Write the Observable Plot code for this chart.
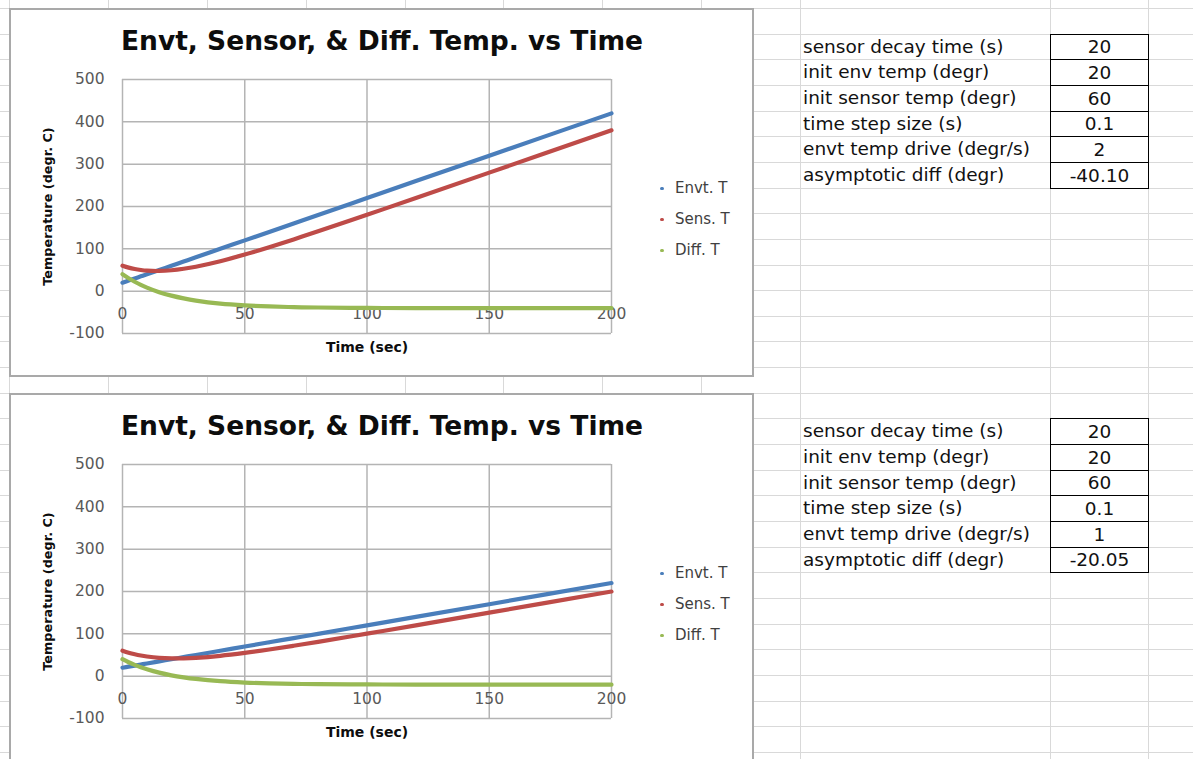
<!DOCTYPE html>
<html>
<head>
<meta charset="utf-8">
<script src="https://cdn.jsdelivr.net/npm/d3@7"></script>
<script src="https://cdn.jsdelivr.net/npm/@observablehq/plot@0.6"></script>
<style>
  html, body { margin: 0; padding: 0; background: #fff; }
  body { width: 1193px; height: 759px; overflow: hidden; position: relative; font-family: "DejaVu Sans", sans-serif; }
  #sheet { position: absolute; left: 0; top: 0; }
  .chart { position: absolute; left: 9px; width: 745px; height: 369px; background: #fff; }
  .chart::after { content: ""; position: absolute; inset: 0; border: 2px solid #a9a9a9; pointer-events: none; }
  .chart svg { position: absolute; left: 0; top: 0; }
  .legend-item { position: absolute; left: 650px; height: 20px; line-height: 20px; font-size: 15px; color: #404040; white-space: nowrap; }
  .legend-item .dot { position: absolute; left: 1px; top: 8.5px; width: 3.5px; height: 3.5px; border-radius: 50%; }
  .legend-item .lbl { position: absolute; left: 16px; top: 0; }
  .cell-label { position: absolute; left: 803px; font-size: 18.5px; color: #111; white-space: nowrap; }
  .cell-value { position: absolute; left: 1050px; width: 99px; box-sizing: border-box; border: 1px solid #000; text-align: center; font-size: 18.5px; color: #111; background: #fff; }
</style>
</head>
<body>
<svg id="sheet" width="1193" height="759"></svg>
<div id="root"></div>
<script>
// Time samples (s) and the three temperature series of each run
const times = [0, 2.5, 5, 7.5, 10, 15, 20, 25, 30, 40, 50, 60, 70, 80, 100, 120, 150, 200];

// Run 1: environment driven at 2 degr/s
const envtA = [20, 25, 30, 35, 40, 50, 60, 70, 80, 100, 120, 140, 160, 180, 220, 260, 320, 420];
const sensA = [60, 55.6, 52.3, 50.0, 48.5, 47.7, 49.4, 52.9, 57.8, 70.7, 86.5, 103.9, 122.3, 141.4, 180.4, 220.1, 280.0, 379.9];
const diffA = [40, 30.6, 22.3, 15.0, 8.5, -2.3, -10.6, -17.1, -22.2, -29.3, -33.5, -36.1, -37.7, -38.6, -39.6, -39.9, -40.0, -40.1];

// Run 2: environment driven at 1 degr/s
const envtB = [20, 22.5, 25, 27.5, 30, 35, 40, 45, 50, 60, 70, 80, 90, 100, 120, 140, 170, 220];
const sensB = [60, 55.4, 51.7, 48.7, 46.4, 43.3, 42.0, 42.2, 43.4, 48.1, 54.9, 62.9, 71.8, 81.1, 100.4, 120.1, 150.0, 199.95];
const diffB = [40, 32.9, 26.7, 21.2, 16.4, 8.3, 2.0, -2.8, -6.6, -11.9, -15.1, -17.1, -18.2, -18.9, -19.6, -19.9, -20.0, -20.05];

const xTicks = [0, 50, 100, 150, 200];
const yTicks = [-100, 0, 100, 200, 300, 400, 500];

const seriesNames = ["Envt. T", "Sens. T", "Diff. T"];
const seriesKeys = ["envt", "sens", "diff"];
const seriesColors = ["#4a7ebb", "#be4b48", "#98b954"];

const chartTitle = "Envt, Sensor, & Diff. Temp. vs Time";
const xTitle = "Time (sec)";
const yTitle = "Temperature (degr. C)";

// Parameter table shown next to each chart
const paramLabels = ["sensor decay time (s)", "init env temp (degr)", "init sensor temp (degr)", "time step size (s)", "envt temp drive (degr/s)", "asymptotic diff (degr)"];
const paramsA = ["20", "20", "60", "0.1", "2", "-40.10"];
const paramsB = ["20", "20", "60", "0.1", "1", "-20.05"];

// Worksheet cell grid
const ROW_H = 25.65, ROW0 = 8;
const colEdges = [9.3, 108.1, 206.9, 305.7, 404.5, 503.3, 602.1, 700.9, 799.7, 1049.5, 1148];

const sheet = d3.select("#sheet");
for (let k = 0; ROW0 + k * ROW_H < 759; k++) {
  const y = Math.round(ROW0 + k * ROW_H) + 0.5;
  sheet.append("line").attr("x1", 0).attr("x2", 1193).attr("y1", y).attr("y2", y)
    .attr("stroke", "#d9d9d9").attr("stroke-width", 1);
}
for (const x0 of colEdges) {
  const x = Math.round(x0) + 0.5;
  sheet.append("line").attr("x1", x).attr("x2", x).attr("y1", 0).attr("y2", 759)
    .attr("stroke", "#d9d9d9").attr("stroke-width", 1);
}

function makeChart(top, envt, sens, diff) {
  const rows = times.map((t, i) => ({t, envt: envt[i], sens: sens[i], diff: diff[i]}));
  const box = document.createElement("div");
  box.className = "chart";
  box.style.top = top + "px";

  const plot = Plot.plot({
    width: 745,
    height: 369,
    marginLeft: 113,
    marginRight: 143,
    marginTop: 71,
    marginBottom: 44,
    x: {domain: [0, 200], axis: null},
    y: {domain: [-100, 500], axis: null, label: null},
    style: {background: "transparent", fontFamily: "DejaVu Sans, sans-serif", overflow: "visible"},
    marks: [
      Plot.gridX(xTicks, {stroke: "#b4b4b4", strokeOpacity: 1, strokeWidth: 1.5}),
      Plot.gridY(yTicks, {stroke: "#b4b4b4", strokeOpacity: 1, strokeWidth: 1.5}),
      Plot.axisY(yTicks, {tickSize: 0, tickPadding: 18, fontSize: 15.5, color: "#595959", label: null,
        tickFormat: d => String(d)}),
      Plot.text(xTicks, {x: d => d, y: () => 0, dy: 23, text: d => String(d), fontSize: 15.5, fill: "#595959"}),
      ...seriesKeys.map((k, i) => Plot.line(rows, {
        x: "t", y: k, stroke: seriesColors[i], strokeWidth: 4.2, curve: "catmull-rom"
      })),
      Plot.text([chartTitle], {text: d => d, frameAnchor: "top", dx: 15, dy: -38, lineAnchor: "middle",
        fontSize: 26.5, fontWeight: "bold", fill: "#0d0d0d"}),
      Plot.text([xTitle], {text: d => d, frameAnchor: "bottom", dy: 14, lineAnchor: "middle",
        fontSize: 14, fontWeight: "bold", fill: "#0d0d0d"}),
      Plot.text([yTitle], {text: d => d, frameAnchor: "left", dx: -75, rotate: -90, textAnchor: "middle",
        lineAnchor: "middle", fontSize: 12.8, fontWeight: "bold", fill: "#0d0d0d"})
    ]
  });
  box.appendChild(plot);

  // Series legend to the right of the plot area
  const legendTops = [170, 201, 232];
  seriesNames.forEach((name, i) => {
    const item = document.createElement("div");
    item.className = "legend-item";
    item.style.top = legendTops[i] + "px";
    const dot = document.createElement("span");
    dot.className = "dot";
    dot.style.background = seriesColors[i];
    const lbl = document.createElement("span");
    lbl.className = "lbl";
    lbl.textContent = name;
    item.appendChild(dot);
    item.appendChild(lbl);
    box.appendChild(item);
  });

  document.getElementById("root").appendChild(box);
}

function makeTable(firstRow, values) {
  const top0 = ROW0 + firstRow * ROW_H;
  paramLabels.forEach((label, i) => {
    const y = top0 + i * ROW_H;
    const l = document.createElement("div");
    l.className = "cell-label";
    l.style.top = y + "px";
    l.style.height = ROW_H + "px";
    l.style.lineHeight = ROW_H + "px";
    l.textContent = label;
    document.body.appendChild(l);

    const v = document.createElement("div");
    v.className = "cell-value";
    v.style.top = Math.round(y) + "px";
    v.style.height = (Math.round(y + ROW_H) - Math.round(y) + 1) + "px";
    v.style.lineHeight = (Math.round(y + ROW_H) - Math.round(y) - 1) + "px";
    v.textContent = values[i];
    document.body.appendChild(v);
  });
}

makeChart(8, envtA, sensA, diffA);
makeChart(393, envtB, sensB, diffB);
makeTable(1, paramsA);
makeTable(16, paramsB);
</script>
</body>
</html>
